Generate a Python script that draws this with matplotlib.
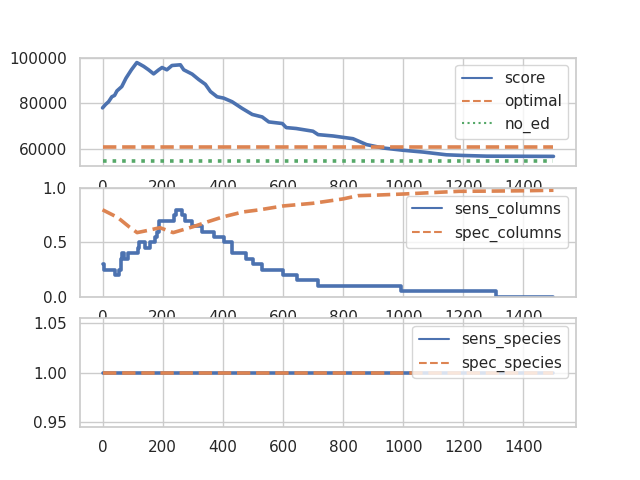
import matplotlib
matplotlib.use("Agg")
import matplotlib.pyplot as plt
import seaborn as sns
import numpy as np

sns.set_theme(style="whitegrid")

score_x = [0, 10, 20, 31, 40, 48, 64, 78, 96, 114, 125, 137, 153, 170, 187, 198, 214, 231, 259, 270,
           298, 320, 342, 359, 381, 403, 431, 464, 498, 531, 553, 598, 611, 644, 700, 717, 767, 833,
           878, 933, 1000, 1067, 1144, 1200, 1278, 1500]
score_y = [78000, 79500, 80700, 82900, 83500, 85500, 87400, 91100, 94800, 98000, 97200, 96300, 94800,
           93000, 94800, 95800, 94800, 96700, 97000, 94800, 92900, 90500, 88400, 85200, 82900, 82300,
           80700, 77800, 75100, 74000, 71800, 71100, 69300, 68900, 67700, 66200, 65600, 64400, 61800,
           60300, 59300, 58500, 57300, 57000, 56700, 56600]
flat_x = [0, 1500]
optimal_y = [60700, 60700]
no_ed_y = [54400, 54400]

sens_col_x = [0, 5, 40, 54, 62, 65, 70, 86, 117, 120, 141, 157, 173, 180, 189, 237, 244, 264, 274,
              296, 330, 372, 405, 432, 476, 500, 530, 600, 646, 716, 992, 1309, 1500]
sens_col_y = [0.30, 0.25, 0.20, 0.25, 0.35, 0.40, 0.35, 0.40, 0.45, 0.50, 0.45, 0.50, 0.55, 0.60, 0.70,
              0.75, 0.80, 0.75, 0.70, 0.65, 0.60, 0.55, 0.50, 0.40, 0.35, 0.30, 0.25, 0.20, 0.15, 0.10,
              0.05, 0.00, 0.00]
spec_col_x = [0, 50, 90, 115, 150, 191, 235, 302, 350, 401, 467, 523, 600, 700, 800, 850, 910, 1000, 1111,
              1186, 1296, 1400, 1500]
spec_col_y = [0.80, 0.73, 0.64, 0.59, 0.61, 0.635, 0.59, 0.645, 0.69, 0.735, 0.78, 0.80, 0.835, 0.86, 0.90,
              0.93, 0.935, 0.945, 0.96, 0.97, 0.972, 0.975, 0.98]
sens_species_y = [1.0, 1.0]
spec_species_y = [1.0, 1.0]

c0, c1, c2 = sns.color_palette("deep")[:3]
LW = 2.6

fig, axes = plt.subplots(3, 1, figsize=(6.4, 4.8), dpi=100)

ax = axes[0]
ax.plot(score_x, score_y, color=c0, lw=LW, label="score")
ax.plot(flat_x, optimal_y, color=c1, lw=LW, ls="--", label="optimal")
ax.plot(flat_x, no_ed_y, color=c2, lw=LW, ls=":", label="no_ed")

ax = axes[1]
ax.plot(sens_col_x, sens_col_y, color=c0, lw=LW, drawstyle="steps-post", label="sens_columns")
ax.plot(spec_col_x, spec_col_y, color=c1, lw=LW, ls="--", label="spec_columns")
ax.set_ylim(0, 1)

ax = axes[2]
ax.plot(flat_x, sens_species_y, color=c0, lw=LW, label="sens_species")
ax.plot(flat_x, spec_species_y, color=c1, lw=LW, ls="--", label="spec_species")

for ax in axes:
    leg = ax.legend(loc="upper right")
    for h in leg.get_lines():
        h.set_linewidth(1.5)

fig.savefig("out.png")
